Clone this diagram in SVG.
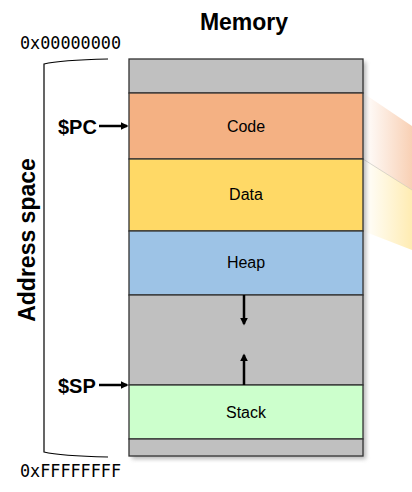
<svg xmlns="http://www.w3.org/2000/svg" width="412" height="492" viewBox="0 0 412 492">
<style>
.t{font-family:"Liberation Sans",Arial,sans-serif;fill:#000}
.b{font-weight:bold}
.m{font-family:"DejaVu Sans Mono","Liberation Mono",monospace;font-size:16.8px}
.seg{stroke:#333;stroke-width:1.3}
.ar{stroke:#000;stroke-width:2.5;fill:none}
</style>
<defs>
<marker id="ah" viewBox="0 0 10 10" refX="8" refY="5" markerWidth="3.2" markerHeight="3.2" orient="auto"><path d="M0,0 L10,5 L0,10 z" fill="#000"/></marker>
<linearGradient id="gc" x1="0" y1="0" x2="1" y2="0"><stop offset="0" stop-color="#f4b183" stop-opacity="0"/><stop offset="1" stop-color="#f4b183" stop-opacity="0.6"/></linearGradient>
<linearGradient id="gd" x1="0" y1="0" x2="1" y2="0"><stop offset="0" stop-color="#ffd966" stop-opacity="0"/><stop offset="1" stop-color="#ffd966" stop-opacity="0.5"/></linearGradient>
<filter id="sh" x="-10%" y="-10%" width="130%" height="130%"><feGaussianBlur stdDeviation="2"/></filter>
</defs>
<text class="t b" x="244" y="30" font-size="23" text-anchor="middle">Memory</text>
<text class="m" x="20" y="49">0x00000000</text>
<text class="m" x="20" y="477">0xFFFFFFFF</text>
<text class="t b" font-size="23" transform="translate(35,240) rotate(-90)" text-anchor="middle">Address space</text>
<path d="M108,59 Q60,60 44,64 L44,452 Q60,456 108,457" fill="none" stroke="#000" stroke-width="1.2"/>
<polygon points="363,93 412,126 412,190 363,159" fill="url(#gc)"/>
<line x1="363" y1="159" x2="412" y2="190" stroke="#ccc" stroke-width="0.8"/>
<polygon points="363,159 412,190 412,250 363,231" fill="url(#gd)"/>
<rect x="132" y="62" width="234" height="397" fill="#888" opacity="0.6" filter="url(#sh)"/>
<g id="top"><rect class="seg" x="129" y="59" width="234" height="34" fill="#c0c0c0"/></g>
<g id="code"><rect class="seg" x="129" y="93" width="234" height="66" fill="#f4b183"/><text class="t" x="246" y="132" font-size="16" text-anchor="middle">Code</text></g>
<g id="data"><rect class="seg" x="129" y="159" width="234" height="72" fill="#ffd966"/><text class="t" x="246" y="200" font-size="16" text-anchor="middle">Data</text></g>
<g id="heap"><rect class="seg" x="129" y="231" width="234" height="64" fill="#9dc3e6"/><text class="t" x="246" y="268" font-size="16" text-anchor="middle">Heap</text></g>
<g id="free"><rect class="seg" x="129" y="295" width="234" height="90" fill="#c0c0c0"/></g>
<g id="stack"><rect class="seg" x="129" y="385" width="234" height="54" fill="#ccffcc"/><text class="t" x="246" y="418" font-size="16" text-anchor="middle">Stack</text></g>
<g id="bottom"><rect class="seg" x="129" y="439" width="234" height="17" fill="#c0c0c0"/></g>
<g id="pc"><text class="t b" x="58" y="134" font-size="20">$PC</text></g>
<g id="sp"><text class="t b" x="58" y="393" font-size="20">$SP</text></g>
<g id="connectors">
<line class="ar" x1="99" y1="126" x2="127" y2="126" marker-end="url(#ah)"/>
<line class="ar" x1="99" y1="385" x2="127" y2="385" marker-end="url(#ah)"/>
<line class="ar" x1="244" y1="295" x2="244" y2="324" marker-end="url(#ah)"/>
<line class="ar" x1="244" y1="385" x2="244" y2="355" marker-end="url(#ah)"/>
</g>
</svg>
